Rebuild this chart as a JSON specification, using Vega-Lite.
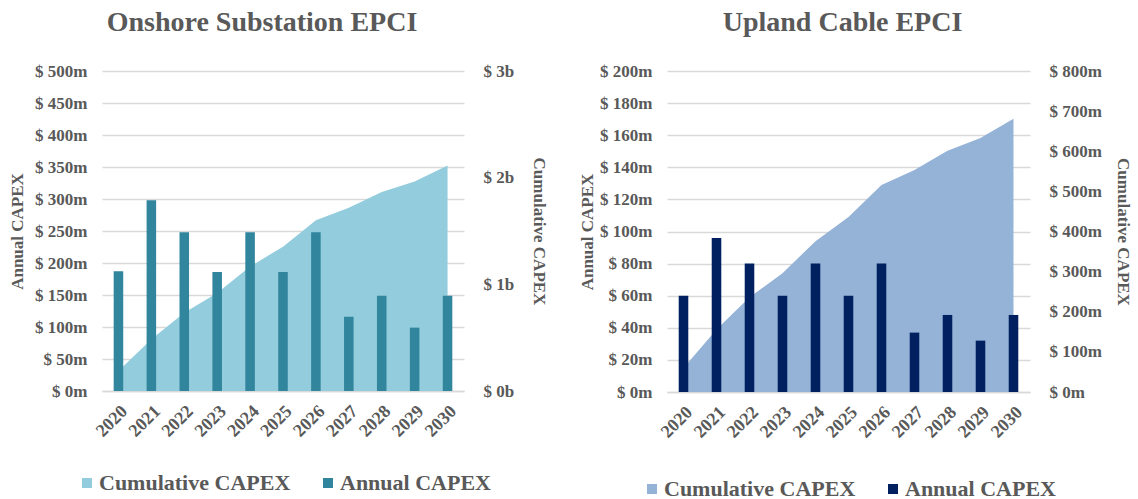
{
  "$schema": "https://vega.github.io/schema/vega-lite/v6.json",
  "background": "white",
  "padding": {"left": 8, "top": 9, "right": 2, "bottom": 0},
  "config": {
    "font": "Liberation Serif",
    "view": {"stroke": null},
    "axis": {
      "labelFont": "Liberation Serif", "labelFontWeight": "bold", "labelColor": "#595959", "labelFontSize": 17,
      "titleFont": "Liberation Serif", "titleFontWeight": "bold", "titleColor": "#595959", "titleFontSize": 17,
      "ticks": false, "domain": false, "gridColor": "#D9D9D9", "gridWidth": 1.5
    },
    "title": {"font": "Liberation Serif", "fontSize": 28, "fontWeight": "bold", "color": "#595959", "anchor": "middle", "frame": "group", "offset": 25},
    "legend": {
      "orient": "bottom", "direction": "horizontal", "title": null,
      "labelFont": "Liberation Serif", "labelFontWeight": "bold", "labelColor": "#595959", "labelFontSize": 22,
      "symbolType": "square", "symbolSize": 100, "symbolStrokeWidth": 0, "symbolOpacity": 1,
      "labelOffset": 1, "columnPadding": 26, "labelLimit": 400,
      "layout": {"anchor": "middle"}
    }
  },
  "datasets": {
    "onshore": [
      {"year": "2020", "annual": 187, "cumulative": 187},
      {"year": "2021", "annual": 298, "cumulative": 485},
      {"year": "2022", "annual": 248, "cumulative": 733},
      {"year": "2023", "annual": 186, "cumulative": 919},
      {"year": "2024", "annual": 248, "cumulative": 1167},
      {"year": "2025", "annual": 186, "cumulative": 1353},
      {"year": "2026", "annual": 248, "cumulative": 1601},
      {"year": "2027", "annual": 116, "cumulative": 1717},
      {"year": "2028", "annual": 149, "cumulative": 1866},
      {"year": "2029", "annual": 99, "cumulative": 1965},
      {"year": "2030", "annual": 149, "cumulative": 2114}
    ],
    "upland": [
      {"year": "2020", "annual": 60, "cumulative": 60},
      {"year": "2021", "annual": 96, "cumulative": 156},
      {"year": "2022", "annual": 80, "cumulative": 236},
      {"year": "2023", "annual": 60, "cumulative": 296},
      {"year": "2024", "annual": 80, "cumulative": 376},
      {"year": "2025", "annual": 60, "cumulative": 436},
      {"year": "2026", "annual": 80, "cumulative": 516},
      {"year": "2027", "annual": 37, "cumulative": 553},
      {"year": "2028", "annual": 48, "cumulative": 601},
      {"year": "2029", "annual": 32, "cumulative": 633},
      {"year": "2030", "annual": 48, "cumulative": 681}
    ]
  },
  "spacing": 30,
  "resolve": {"scale": {"color": "independent"}, "legend": {"color": "independent"}},
  "hconcat": [
    {
      "title": {"text": "Onshore Substation EPCI", "dx": -21},
      "width": 362,
      "height": 320,
      "data": {"name": "onshore"},
      "layer": [
        {
          "mark": {"type": "area", "opacity": 1},
          "encoding": {
            "x": {"field": "year", "type": "ordinal", "bandPosition": 0.5,
              "scale": {"type": "band", "paddingInner": 0, "paddingOuter": 0},
              "axis": {"title": null, "labelAngle": -45, "labelFontSize": 18, "labelPadding": 11, "domain": true, "domainColor": "#D9D9D9", "domainWidth": 1.5, "grid": false}},
            "y": {"field": "cumulative", "type": "quantitative", "stack": null,
              "scale": {"domain": [0, 3000]},
              "axis": {"orient": "right", "title": "Cumulative CAPEX", "values": [0, 1000, 2000, 3000], "labelExpr": "'$ ' + datum.value / 1000 + 'b'", "grid": false, "labelPadding": 19, "titlePadding": 16}},
            "color": {"datum": "Cumulative CAPEX", "type": "nominal",
              "scale": {"domain": ["Cumulative CAPEX", "Annual CAPEX"], "range": ["#93CDDD", "#31859C"]},
              "legend": {"offset": 31}}
          }
        },
        {
          "mark": {"type": "bar", "width": {"band": 0.29}},
          "encoding": {
            "x": {"field": "year", "type": "ordinal", "scale": {"type": "band", "paddingInner": 0, "paddingOuter": 0}},
            "y": {"field": "annual", "type": "quantitative", "stack": null,
              "scale": {"domain": [0, 500]},
              "axis": {"orient": "left", "title": "Annual CAPEX", "values": [0, 50, 100, 150, 200, 250, 300, 350, 400, 450, 500], "labelExpr": "'$ ' + datum.value + 'm'", "grid": true, "labelPadding": 15, "titlePadding": 8}},
            "color": {"datum": "Annual CAPEX", "type": "nominal"}
          }
        }
      ],
      "resolve": {"scale": {"y": "independent"}}
    },
    {
      "title": {"text": "Upland Cable EPCI", "dx": -6},
      "width": 363,
      "height": 321,
      "data": {"name": "upland"},
      "layer": [
        {
          "mark": {"type": "area", "opacity": 1},
          "encoding": {
            "x": {"field": "year", "type": "ordinal", "bandPosition": 0.5,
              "scale": {"type": "band", "paddingInner": 0, "paddingOuter": 0},
              "axis": {"title": null, "labelAngle": -45, "labelFontSize": 18, "labelPadding": 11, "domain": true, "domainColor": "#D9D9D9", "domainWidth": 1.5, "grid": false}},
            "y": {"field": "cumulative", "type": "quantitative", "stack": null,
              "scale": {"domain": [0, 800]},
              "axis": {"orient": "right", "title": "Cumulative CAPEX", "values": [0, 100, 200, 300, 400, 500, 600, 700, 800], "labelExpr": "'$ ' + datum.value + 'm'", "grid": false, "labelPadding": 19, "titlePadding": 12}},
            "color": {"datum": "Cumulative CAPEX", "type": "nominal",
              "scale": {"domain": ["Cumulative CAPEX", "Annual CAPEX"], "range": ["#95B3D7", "#002060"]},
              "legend": {"offset": 36}}
          }
        },
        {
          "mark": {"type": "bar", "width": {"band": 0.29}},
          "encoding": {
            "x": {"field": "year", "type": "ordinal", "scale": {"type": "band", "paddingInner": 0, "paddingOuter": 0}},
            "y": {"field": "annual", "type": "quantitative", "stack": null,
              "scale": {"domain": [0, 200]},
              "axis": {"orient": "left", "title": "Annual CAPEX", "values": [0, 20, 40, 60, 80, 100, 120, 140, 160, 180, 200], "labelExpr": "'$ ' + datum.value + 'm'", "grid": true, "labelPadding": 15, "titlePadding": 3}},
            "color": {"datum": "Annual CAPEX", "type": "nominal"}
          }
        }
      ],
      "resolve": {"scale": {"y": "independent"}}
    }
  ]
}
